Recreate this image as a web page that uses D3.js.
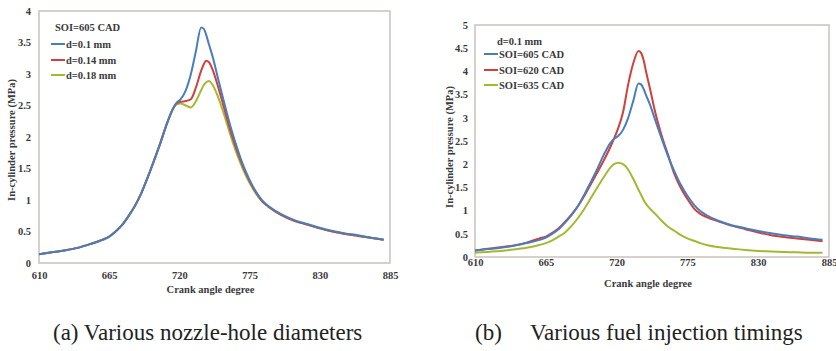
<!DOCTYPE html>
<html>
<head>
<meta charset="utf-8">
<script src="https://cdn.jsdelivr.net/npm/d3@7"></script>
<style>
  html, body { margin: 0; padding: 0; background: #fff; }
  svg { display: block; }
  .tick text, .lbl { font-family: "Liberation Serif", serif; font-weight: bold; fill: #3a3a3a; }
  .caption { font-family: "Liberation Serif", "Times New Roman", serif; fill: #222; }
</style>
</head>
<body>
<svg id="fig" width="836" height="351"></svg>
<script>
// Crank angle samples (CAD) shared by every series
const crankAngles = [610,620,630,640,650,660,665,670,675,680,685,690,695,700,705,710,715,718,721,725,729,733,737,739,741,743,746,750,755,760,765,770,775,780,785,790,800,810,820,830,840,850,860,870,880];

// (a) SOI = 605 CAD, various nozzle-hole diameters — in-cylinder pressure (MPa)
const pD010 = [0.14,0.17,0.20,0.24,0.30,0.37,0.42,0.50,0.60,0.74,0.90,1.10,1.35,1.62,1.90,2.20,2.45,2.55,2.60,2.74,3.00,3.37,3.74,3.72,3.62,3.48,3.28,2.95,2.55,2.17,1.84,1.55,1.32,1.13,0.99,0.90,0.77,0.68,0.62,0.56,0.51,0.47,0.44,0.40,0.37];
const pD014 = [0.14,0.17,0.20,0.24,0.30,0.37,0.42,0.50,0.60,0.74,0.90,1.10,1.35,1.62,1.90,2.20,2.45,2.54,2.56,2.57,2.60,2.79,3.05,3.15,3.21,3.19,3.07,2.82,2.46,2.10,1.79,1.52,1.30,1.12,0.98,0.89,0.76,0.67,0.61,0.55,0.50,0.46,0.43,0.40,0.37];
const pD018 = [0.14,0.17,0.20,0.24,0.30,0.37,0.42,0.50,0.60,0.74,0.90,1.10,1.35,1.62,1.90,2.20,2.45,2.52,2.53,2.50,2.47,2.57,2.74,2.82,2.87,2.89,2.83,2.65,2.36,2.03,1.73,1.48,1.27,1.10,0.97,0.89,0.76,0.67,0.61,0.55,0.50,0.46,0.43,0.40,0.37];

// (b) d = 0.1 mm, various start-of-injection timings — in-cylinder pressure (MPa)
const pSoi605 = pD010;
const pSoi620 = [0.14,0.18,0.21,0.25,0.31,0.40,0.44,0.52,0.62,0.76,0.92,1.10,1.32,1.57,1.82,2.08,2.36,2.55,2.76,3.12,3.72,4.18,4.44,4.40,4.24,3.98,3.62,3.12,2.62,2.20,1.78,1.48,1.25,1.05,0.93,0.86,0.76,0.67,0.60,0.53,0.47,0.43,0.40,0.37,0.34];
const pSoi635 = [0.09,0.11,0.13,0.16,0.20,0.26,0.30,0.36,0.44,0.53,0.67,0.84,1.04,1.27,1.50,1.72,1.92,2.00,2.03,2.00,1.88,1.68,1.45,1.34,1.23,1.14,1.04,0.93,0.78,0.65,0.56,0.47,0.40,0.35,0.30,0.26,0.21,0.18,0.15,0.13,0.12,0.11,0.10,0.09,0.09];

const xTicks = [610, 665, 720, 775, 830, 885];
const yTicksA = [0, 0.5, 1, 1.5, 2, 2.5, 3, 3.5, 4];
const yTicksB = [0, 0.5, 1, 1.5, 2, 2.5, 3, 3.5, 4, 4.5, 5];

const BLUE = "#4a7ebb", RED = "#d1403c", GREEN = "#a5b830";

const panels = [
  {
    box: {x0: 39, x1: 390, y0: 11, y1: 263}, yMax: 4, yTicks: yTicksA,
    yLabelX: 31, yTitleX: 11, yTitleY: 140, xLabelTop: 272, xTitleY: 293,
    legendTitle: "SOI=605 CAD", legX: 51, legTitleY: 31, legY: [44, 60, 75],
    series: [
      {name: "d=0.1 mm", values: pD010, color: BLUE},
      {name: "d=0.14 mm", values: pD014, color: RED},
      {name: "d=0.18 mm", values: pD018, color: GREEN}
    ],
    captionParts: [{text: "(a) Various nozzle-hole diameters", x: 53}]
  },
  {
    box: {x0: 475, x1: 829, y0: 25, y1: 257}, yMax: 5, yTicks: yTicksB,
    yLabelX: 468, yTitleX: 449, yTitleY: 147, xLabelTop: 259, xTitleY: 287,
    legendTitle: "d=0.1 mm", legX: 484, legTitleY: 45, legY: [54, 70, 85],
    legTitleDx: 9,
    series: [
      {name: "SOI=605 CAD", values: pSoi605, color: BLUE},
      {name: "SOI=620 CAD", values: pSoi620, color: RED},
      {name: "SOI=635 CAD", values: pSoi635, color: GREEN}
    ],
    captionParts: [{text: "(b)", x: 475}, {text: "Various fuel injection timings", x: 530}]
  }
];

const svg = d3.select("#fig");

panels.forEach(p => {
  const b = p.box;
  const x = d3.scaleLinear().domain([610, 885]).range([b.x0, b.x1]);
  const y = d3.scaleLinear().domain([0, p.yMax]).range([b.y1, b.y0]);
  const g = svg.append("g");

  // plot frame
  g.append("rect")
    .attr("x", b.x0).attr("y", b.y0)
    .attr("width", b.x1 - b.x0).attr("height", b.y1 - b.y0)
    .attr("fill", "#fff").attr("stroke", "#c9c2bb").attr("stroke-width", 1.5);

  // x axis labels
  const xAxis = d3.axisBottom(x).tickValues(xTicks).tickSize(0).tickFormat(d3.format("d"));
  const gx = g.append("g").attr("transform", `translate(0,${p.xLabelTop})`).call(xAxis);
  gx.select(".domain").remove();
  gx.selectAll("text").attr("font-size", 10.5).attr("y", 0).attr("dy", "0.71em");

  // y axis labels
  const yAxis = d3.axisLeft(y).tickValues(p.yTicks).tickSize(0).tickFormat(d3.format(""));
  const gy = g.append("g").attr("transform", `translate(${p.yLabelX},0)`).call(yAxis);
  gy.select(".domain").remove();
  gy.selectAll("text").attr("font-size", 10.5).attr("x", 0);

  // axis titles
  g.append("text").attr("class", "lbl")
    .attr("transform", `translate(${p.yTitleX},${p.yTitleY}) rotate(-90)`)
    .attr("text-anchor", "middle").attr("dy", "0.35em").attr("font-size", 10.5)
    .text("In-cylinder pressure (MPa)");
  g.append("text").attr("class", "lbl")
    .attr("x", (b.x0 + b.x1) / 2 - 4).attr("y", p.xTitleY)
    .attr("text-anchor", "middle").attr("font-size", 10.5)
    .text("Crank angle degree");

  // pressure curves
  const line = d3.line()
    .x((d, i) => x(crankAngles[i]))
    .y(d => y(d))
    .curve(d3.curveMonotoneX);
  // draw in reverse so the first series sits on top
  [...p.series].reverse().forEach(s => {
    g.append("path")
      .attr("d", line(s.values))
      .attr("fill", "none")
      .attr("stroke", s.color)
      .attr("stroke-width", 2)
      .attr("stroke-linejoin", "round");
  });

  // legend
  g.append("text").attr("class", "lbl")
    .attr("x", p.legX + 4 + (p.legTitleDx || 0)).attr("y", p.legTitleY)
    .attr("font-size", 10.5).text(p.legendTitle);
  p.series.forEach((s, i) => {
    const ly = p.legY[i];
    g.append("line")
      .attr("x1", p.legX).attr("x2", p.legX + 14)
      .attr("y1", ly).attr("y2", ly)
      .attr("stroke", s.color).attr("stroke-width", 2);
    g.append("text").attr("class", "lbl")
      .attr("x", p.legX + 15).attr("y", ly).attr("dy", "0.35em")
      .attr("font-size", 10.5).text(s.name);
  });

  // sub-figure caption
  const cap = svg.append("text").attr("class", "caption")
    .attr("font-family", "'Liberation Serif', serif")
    .attr("y", 340).attr("font-size", 23);
  p.captionParts.forEach(part => {
    cap.append("tspan").attr("x", part.x).text(part.text);
  });
});
</script>
</body>
</html>
